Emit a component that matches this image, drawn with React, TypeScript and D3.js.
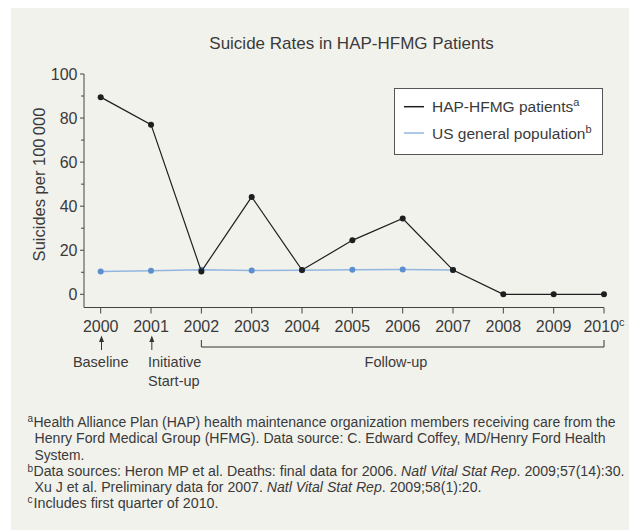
import React, { useRef, useEffect } from 'react';
import * as d3 from 'd3';

// data
const years = [2000, 2001, 2002, 2003, 2004, 2005, 2006, 2007, 2008, 2009, 2010];
const hapValues = [89.5, 77, 10.4, 44.2, 11, 24.5, 34.4, 11, 0, 0, 0];
const usYears = [2000, 2001, 2002, 2003, 2004, 2005, 2006, 2007];
const usValues = [10.3, 10.7, 11.2, 10.8, 10.9, 11.1, 11.3, 11];
const yTicks = [0, 20, 40, 60, 80, 100];
const yMinorTicks = [10, 30, 50, 70, 90];

const FONT = '"Liberation Sans", Arial, Helvetica, sans-serif';
const TEXT = '#3a3a3a';

const App = () => {
    const svgRef = useRef<SVGSVGElement>(null);

    useEffect(() => {
        const svg = d3.select(svgRef.current);
        svg.selectAll("*").remove();

        const width = 629;

        svg.append("rect")
            .attr("x", 11).attr("y", 8)
            .attr("width", width - 11).attr("height", 522)
            .attr("fill", "#f2f2ed");

        const x = d3.scaleLinear().domain([2000, 2010]).range([100.7, 604]);
        const y = d3.scaleLinear().domain([0, 100]).range([294.3, 74]);
        const axisLeft = 84;
        const axisBottom = 307.5;

        // title
        svg.append("text")
            .attr("x", 351.5).attr("y", 49.3)
            .attr("text-anchor", "middle")
            .attr("font-family", FONT).attr("font-size", "17px")
            .attr("fill", TEXT)
            .text("Suicide Rates in HAP-HFMG Patients");

        // axes lines
        const axisG = svg.append("g").attr("stroke", "#444").attr("stroke-width", 1).attr("fill", "none");
        axisG.append("path")
            .attr("d", `M${axisLeft},${y(100)}V${axisBottom}H${x(2010)}`);

        axisG.selectAll(".ymaj").data(yTicks).join("line")
            .attr("class", "ymaj")
            .attr("x1", axisLeft - 4).attr("x2", axisLeft)
            .attr("y1", d => y(d)).attr("y2", d => y(d));
        axisG.selectAll(".ymin").data(yMinorTicks).join("line")
            .attr("class", "ymin")
            .attr("x1", axisLeft - 3).attr("x2", axisLeft)
            .attr("y1", d => y(d)).attr("y2", d => y(d));
        axisG.selectAll(".xt").data(years).join("line")
            .attr("class", "xt")
            .attr("x1", d => x(d)).attr("x2", d => x(d))
            .attr("y1", axisBottom).attr("y2", axisBottom + 6);

        svg.append("g").selectAll("text").data(yTicks).join("text")
            .attr("x", 77.5).attr("y", d => y(d) + 5.7)
            .attr("text-anchor", "end")
            .attr("font-family", FONT).attr("font-size", "16px")
            .attr("fill", TEXT)
            .text(d => d);

        // x tick labels; the last one carries footnote c and is centred as a whole
        const xl = svg.append("g").selectAll("text").data(years).join("text")
            .attr("x", d => x(d)).attr("y", 332.3)
            .attr("text-anchor", "middle")
            .attr("font-family", FONT).attr("font-size", "16px")
            .attr("fill", TEXT);
        xl.append("tspan").text(d => d);
        xl.filter(d => d === 2010).append("tspan")
            .attr("dy", -6).attr("font-size", "11px").text("c");

        // y label
        svg.append("text")
            .attr("transform", `translate(44.5, 184.5) rotate(-90)`)
            .attr("text-anchor", "middle")
            .attr("font-family", FONT).attr("font-size", "16.5px")
            .attr("fill", TEXT)
            .text("Suicides per 100\u2009000");

        // series
        const line = d3.line<[number, number]>()
            .x(d => x(d[0]))
            .y(d => y(d[1]));

        const usData: [number, number][] = usYears.map((yr, i) => [yr, usValues[i]]);
        const hapData: [number, number][] = years.map((yr, i) => [yr, hapValues[i]]);

        svg.append("path")
            .attr("d", line(usData))
            .attr("fill", "none")
            .attr("stroke", "#92b6e0")
            .attr("stroke-width", 1.5);
        svg.append("g").selectAll("circle").data(usData).join("circle")
            .attr("cx", d => x(d[0])).attr("cy", d => y(d[1]))
            .attr("r", 3)
            .attr("fill", "#5b8fcf");

        svg.append("path")
            .attr("d", line(hapData))
            .attr("fill", "none")
            .attr("stroke", "#1e1e1e")
            .attr("stroke-width", 1.2);
        svg.append("g").selectAll("circle").data(hapData).join("circle")
            .attr("cx", d => x(d[0])).attr("cy", d => y(d[1]))
            .attr("r", 3)
            .attr("fill", "#1e1e1e");

        // legend
        const legend = svg.append("g");
        legend.append("rect")
            .attr("x", 394.5).attr("y", 88.5)
            .attr("width", 208).attr("height", 66)
            .attr("fill", "#fff")
            .attr("stroke", "#555");
        const legendItems = [
            { label: "HAP-HFMG patients", sup: "a", color: "#1e1e1e", ly: 106.7 },
            { label: "US general population", sup: "b", color: "#92b6e0", ly: 133 },
        ];
        legendItems.forEach(item => {
            legend.append("line")
                .attr("x1", 404).attr("x2", 424)
                .attr("y1", item.ly).attr("y2", item.ly)
                .attr("stroke", item.color)
                .attr("stroke-width", 1.5);
            const t = legend.append("text")
                .attr("x", 432).attr("y", item.ly + 5.6)
                .attr("font-family", FONT).attr("font-size", "15.5px")
                .attr("fill", TEXT);
            t.append("tspan").text(item.label);
            t.append("tspan").attr("dy", -6).attr("font-size", "11px").text(item.sup);
        });

        // annotations below the x axis
        const ann = svg.append("g").attr("stroke", "#333").attr("fill", "none").attr("stroke-width", 1);
        [2000, 2001].forEach(yr => {
            const ax = x(yr) + 0.8;
            ann.append("line")
                .attr("x1", ax).attr("x2", ax)
                .attr("y1", 340).attr("y2", 350);
            ann.append("path")
                .attr("d", `M${ax},335.5L${ax - 2.5},342L${ax + 2.5},342Z`)
                .attr("fill", "#333").attr("stroke", "none");
        });
        ann.append("path")
            .attr("d", `M${x(2002)},340V347H${x(2010)}V340`);

        const labels = [
            { text: "Baseline", x: x(2000), y: 366.7, anchor: "middle" },
            { text: "Initiative", x: x(2001) - 3, y: 366.7, anchor: "start" },
            { text: "Start-up", x: x(2001) - 3, y: 386, anchor: "start" },
            { text: "Follow-up", x: 396, y: 366.7, anchor: "middle" },
        ];
        svg.append("g").selectAll("text").data(labels).join("text")
            .attr("x", d => d.x).attr("y", d => d.y)
            .attr("text-anchor", d => d.anchor)
            .attr("font-family", FONT).attr("font-size", "14.5px")
            .attr("fill", TEXT)
            .text(d => d.text);

        // footnotes
        const notes = svg.append("g")
            .attr("font-family", FONT).attr("font-size", "13.8px")
            .attr("fill", TEXT);
        const sup = (s: string, yy: number) => notes.append("text")
            .attr("x", 27.5).attr("y", yy - 4.5)
            .attr("font-size", "10px")
            .text(s);
        const plain = (s: string, xx: number, yy: number, len?: number) => {
            const t = notes.append("text").attr("x", xx).attr("y", yy).text(s);
            if (len) t.attr("textLength", len).attr("lengthAdjust", "spacingAndGlyphs");
            return t;
        };

        sup("a", 426.7);
        plain("Health Alliance Plan (HAP) health maintenance organization members receiving care from the", 33.5, 426.7, 582);
        plain("Henry Ford Medical Group (HFMG). Data source: C. Edward Coffey, MD/Henry Ford Health", 34.5, 443.2, 571);
        plain("System.", 34.5, 459.5);
        sup("b", 476);
        const b1 = notes.append("text").attr("x", 33.5).attr("y", 476)
            .attr("textLength", 591).attr("lengthAdjust", "spacingAndGlyphs");
        b1.append("tspan").text("Data sources: Heron MP et al. Deaths: final data for 2006. ");
        b1.append("tspan").attr("font-style", "italic").text("Natl Vital Stat Rep");
        b1.append("tspan").text(". 2009;57(14):30.");
        const b2 = notes.append("text").attr("x", 34.5).attr("y", 492)
            .attr("textLength", 447).attr("lengthAdjust", "spacingAndGlyphs");
        b2.append("tspan").text("Xu J et al. Preliminary data for 2007. ");
        b2.append("tspan").attr("font-style", "italic").text("Natl Vital Stat Rep");
        b2.append("tspan").text(". 2009;58(1):20.");
        sup("c", 507.5);
        plain("Includes first quarter of 2010.", 33.5, 507.5, 185);
    }, []);

    return (
        <svg ref={svgRef} width={629} height={531}
            style={{ position: 'absolute', left: 0, top: 0, display: 'block' }}></svg>
    );
};

export default App;
